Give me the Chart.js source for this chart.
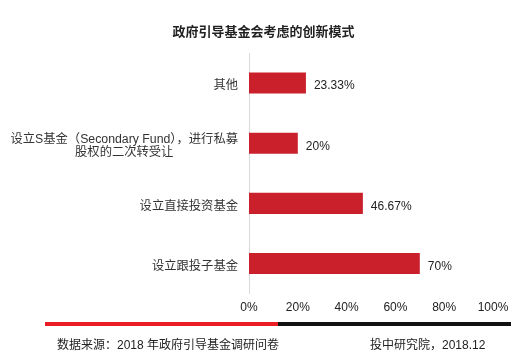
<!DOCTYPE html>
<html>
<head>
<meta charset="utf-8">
<script src="https://cdn.jsdelivr.net/npm/chart.js@4/dist/chart.umd.min.js"></script>
<style>
  html, body { margin: 0; padding: 0; background: #fff; }
  #wrap { position: relative; width: 521px; height: 357px; overflow: hidden;
          font-family: "Liberation Sans", Arial, "Noto Sans CJK SC", sans-serif; }
  #chart { position: absolute; left: 0; top: 0; }
  .title { position: absolute; left: 0; width: 527px; top: 21px; text-align: center;
           font-size: 13px; font-weight: bold; color: #222; }
  .rule { position: absolute; top: 322px; height: 4px; }
  .foot { position: absolute; top: 335px; font-size: 12px; color: #222; white-space: nowrap; }
</style>
</head>
<body>
<div id="wrap">
  <canvas id="chart" width="521" height="357"></canvas>
  <div class="title">政府引导基金会考虑的创新模式</div>
  <div class="rule" style="left:45px;width:233px;background:#ea1c24"></div>
  <div class="rule" style="left:278px;width:233px;background:#111"></div>
  <div class="foot" style="left:57px">数据来源：2018 年政府引导基金调研问卷</div>
  <div class="foot" style="left:370px">投中研究院，2018.12</div>
</div>
<script>
'use strict';

// ── data ──
const categories = [
    ['其他'],
    ['设立S基金（Secondary Fund），进行私募', '股权的二次转受让'],
    ['设立直接投资基金'],
    ['设立跟投子基金'],
];
const shares = [23.33, 20, 46.67, 70];
const xTicks = [0, 20, 40, 60, 80, 100];

const FONT = '"Liberation Sans", Arial, "Noto Sans CJK SC", sans-serif';
const TEXT_NUDGE = 3;   // canvas 'middle' sits a bit high for these fonts

// category labels: right-aligned block, multi-line block centred on itself
const catLabels = {
    id: 'catLabels',
    afterDraw(chart) {
        const { ctx, scales: { y } } = chart;
        const right = chart.chartArea.left - 11;
        const lh = 12.7;
        ctx.save();
        ctx.font = '12.3px ' + FONT;
        ctx.fillStyle = '#333';
        ctx.textBaseline = 'middle';
        ctx.textAlign = 'center';
        categories.forEach((lines, i) => {
            const yc = y.getPixelForValue(i) + TEXT_NUDGE;
            const widest = Math.max(...lines.map(l => ctx.measureText(l).width));
            const cx = right - widest / 2;
            const y0 = yc - (lines.length - 1) * lh / 2;
            lines.forEach((l, k) => ctx.fillText(l, cx, y0 + k * lh));
        });
        ctx.restore();
    }
};

// value labels at bar ends
const valueLabels = {
    id: 'valueLabels',
    afterDatasetsDraw(chart) {
        const { ctx } = chart;
        const meta = chart.getDatasetMeta(0);
        ctx.save();
        ctx.font = '12px ' + FONT;
        ctx.fillStyle = '#222';
        ctx.textBaseline = 'middle';
        ctx.textAlign = 'left';
        meta.data.forEach((bar, i) => ctx.fillText(shares[i] + '%', bar.x + 8, bar.y + TEXT_NUDGE));
        ctx.restore();
    }
};

new Chart(document.getElementById('chart'), {
    type: 'bar',
    data: {
        labels: categories.map(c => c.join('')),
        datasets: [{ data: shares, backgroundColor: '#c9202b',
            categoryPercentage: 1, barPercentage: 0.35 }]
    },
    options: {
        indexAxis: 'y',
        responsive: false,
        animation: false,
        layout: { padding: { top: 53, bottom: 35, right: 28, left: 0 } },
        plugins: { legend: { display: false }, tooltip: { enabled: false } },
        scales: {
            x: {
                min: 0, max: 100,
                afterBuildTicks: s => { s.ticks = xTicks.map(v => ({ value: v })); },
                grid: { display: false, drawTicks: false },
                border: { display: false },
                ticks: { padding: 7, color: '#222', font: { size: 12, family: FONT },
                    maxRotation: 0, callback: v => v + '%' }
            },
            y: {
                grid: { display: false, drawTicks: false },
                border: { display: true, color: '#d9d9d9', width: 1 },
                ticks: { display: false },
                afterFit: s => { s.width = 249; }
            }
        }
    },
    plugins: [catLabels, valueLabels]
});
</script>
</body>
</html>
